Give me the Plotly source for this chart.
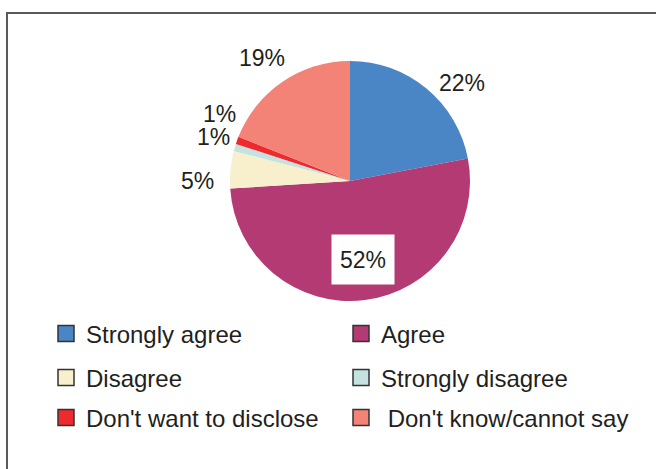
import math
import plotly.graph_objects as go

# Survey responses (percent of respondents)
categories = ["Strongly agree", "Agree", "Disagree", "Strongly disagree",
              "Don't want to disclose", "Don't know/cannot say"]
shares = [22, 52, 5, 1, 1, 19]
legend_labels = ["Strongly agree", "Agree", "Disagree", "Strongly disagree",
                 "Don't want to disclose", "\u00a0Don't know/cannot say"]

colors = ["#4A86C5", "#B43A74", "#F8F0CC", "#C4E3E0", "#EE2A2E", "#F38377"]

W, H = 656, 469
CX, CY, R = 350, 181, 120          # pie centre and radius in pixels
FONT = "Liberation Sans, Arial, sans-serif"
TXT = "#231F20"

# label placement tweaks (degrees added to mid-angle, radial distance in px)
label_shift = [9.2, -2.2, -5.4, 1.8, 7.2, -1.4]
label_dist = [149, 80, 153, 144, 147, 151]

fig = go.Figure()

fig.add_trace(go.Pie(
    labels=categories,
    values=shares,
    sort=False,
    direction="clockwise",
    rotation=0,
    marker=dict(colors=colors, line=dict(width=0)),
    textinfo="none",
    hoverinfo="label+percent",
    showlegend=False,
    domain=dict(x=[(CX - R) / W, (CX + R) / W],
                y=[1 - (CY + R) / H, 1 - (CY - R) / H]),
))

# percentage labels positioned from each slice's mid-angle
total = sum(shares)
cum = 0
annotations = []
for i, v in enumerate(shares):
    mid = (cum + v / 2) / total * 360
    cum += v
    ang = math.radians(mid + label_shift[i])
    px = CX + label_dist[i] * math.sin(ang)
    py = CY - label_dist[i] * math.cos(ang)
    inside = label_dist[i] < R
    ann = dict(
        x=px / W, y=1 - py / H, xref="paper", yref="paper",
        text=f"{v}%", showarrow=False,
        font=dict(family=FONT, size=23, color=TXT),
        xanchor="center", yanchor="middle",
    )
    if inside:
        ann.update(bgcolor="white", width=62, height=49, borderpad=0)
    annotations.append(ann)

# legend: three rows, two entries each
legend_rows = ["legend", "legend2", "legend3"]
for i, (name, c) in enumerate(zip(legend_labels, colors)):
    fig.add_trace(go.Scatter(
        x=[None], y=[None], mode="markers", name=name,
        marker=dict(symbol="square", size=16, color=c,
                    line=dict(width=1.5, color="#333333")),
        legend=legend_rows[i // 2],
    ))

row_y = [334, 378, 418]
leg_common = dict(orientation="h", xanchor="left", yanchor="middle",
                  entrywidth=250, entrywidthmode="pixels",
                  font=dict(family=FONT, size=24, color=TXT),
                  bgcolor="rgba(0,0,0,0)", itemwidth=30, tracegroupgap=0)

fig.update_layout(
    width=W, height=H,
    margin=dict(l=0, r=0, t=0, b=0),
    paper_bgcolor="white", plot_bgcolor="white",
    xaxis=dict(visible=False), yaxis=dict(visible=False),
    annotations=annotations,
    legend=dict(x=46 / W, y=1 - row_y[0] / H, **leg_common),
    legend2=dict(x=46 / W, y=1 - row_y[1] / H, **leg_common),
    legend3=dict(x=46 / W, y=1 - row_y[2] / H, **leg_common),
    shapes=[dict(type="rect", xref="paper", yref="paper",
                 x0=7 / W, x1=1.2, y0=-0.2, y1=1 - 13 / H,
                 line=dict(color="#5A5A5A", width=2))],
)

fig.write_html("out.html")
